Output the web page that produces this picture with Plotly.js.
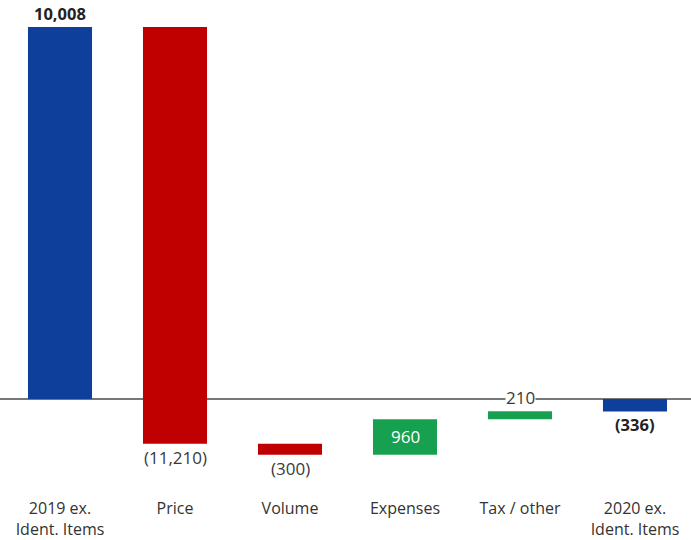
<!DOCTYPE html>
<html>
<head>
<meta charset="utf-8">
<script src="https://cdn.plot.ly/plotly-3.0.1.min.js"></script>
<style>html,body{margin:0;padding:0;background:#fff;}#chart{width:691px;height:540px;}</style>
</head>
<body>
<div id="chart"></div>
<script>
const categories = ["2019 ex.<br>Ident. Items", "Price", "Volume", "Expenses", "Tax / other", "2020 ex.<br>Ident. Items"];
const values = [10008, -11210, -300, 960, 210, -336];
const measures = ["absolute", "relative", "relative", "relative", "relative", "absolute"];
const labels = ["10,008", "(11,210)", "(300)", "960", "210", "(336)"];

const blue = "#0e3f9a", red = "#c00000", green = "#17a04f";
const FONT = "Open Sans, sans-serif";

// cumulative levels for label placement
const starts = [], ends = [];
let run = 0;
values.forEach((v, i) => {
  if (measures[i] === "absolute") { starts.push(0); ends.push(v); run = v; }
  else { starts.push(run); run += v; ends.push(run); }
});

const annotations = [];
values.forEach((v, i) => {
  const top = Math.max(starts[i], ends[i]);
  const bot = Math.min(starts[i], ends[i]);
  const a = {x: i, xref: "x", yref: "y", text: labels[i], showarrow: false,
             font: {family: FONT, size: 17, color: "#3a3a3a"}};
  if (i === 0) { Object.assign(a, {y: top, yanchor: "bottom", yshift: 0, text: "<b>" + labels[i] + "</b>", font: {family: FONT, size: 16.5, color: "#222"}}); }
  else if (i === 5) { Object.assign(a, {y: bot, yanchor: "top", yshift: 0, text: "<b>" + labels[i] + "</b>", font: {family: FONT, size: 16.5, color: "#222"}}); }
  else if (i === 3) { Object.assign(a, {y: (top + bot) / 2, yanchor: "middle", font: {family: FONT, size: 17, color: "#fff"}}); }
  else if (i === 4) { Object.assign(a, {y: top, yanchor: "bottom", yshift: 1, bgcolor: "#fff", borderpad: 0}); }
  else { Object.assign(a, {y: bot, yanchor: "top", yshift: 0}); }
  annotations.push(a);
});

const trace = {
  type: "waterfall",
  x: [0, 1, 2, 3, 4, 5],
  y: values,
  measure: measures,
  totals: {marker: {color: blue}},
  increasing: {marker: {color: green}},
  decreasing: {marker: {color: red}},
  connector: {visible: false},
  hoverinfo: "none"
};

const layout = {
  width: 691, height: 540,
  margin: {l: 0, r: 0, t: 0, b: 60},
  paper_bgcolor: "#fff", plot_bgcolor: "#fff",
  showlegend: false,
  waterfallgap: 0.443,
  font: {family: FONT, color: "#333"},
  xaxis: {
    range: [-0.5217, 5.487],
    tickmode: "array", tickvals: [0, 1, 2, 3, 4, 5], ticktext: categories,
    showgrid: false, zeroline: false, showline: false, ticks: "",
    tickfont: {family: FONT, size: 16, color: "#333"},
    ticklabelstandoff: 17
  },
  yaxis: {
    range: [-2179, 10734],
    showgrid: false, showticklabels: false, ticks: "",
    zeroline: true, zerolinecolor: "#777", zerolinewidth: 1.5
  },
  annotations: annotations
};

Plotly.newPlot("chart", [trace], layout, {staticPlot: true, displayModeBar: false});
</script>
</body>
</html>
